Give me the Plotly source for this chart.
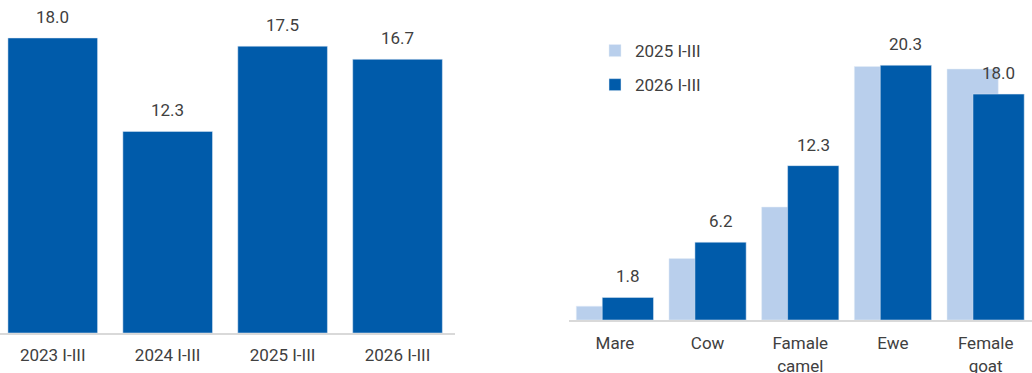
import plotly.graph_objects as go

# Left panel: totals by period
periods = ["2023 I-III", "2024 I-III", "2025 I-III", "2026 I-III"]
period_values = [18.0, 12.3, 17.5, 16.7]

# Right panel: by livestock type, two periods
animals = ["Mare", "Cow", "Famale<br>camel", "Ewe", "Female<br>goat"]
values_2025 = [1.1, 4.9, 9.0, 20.2, 20.0]
values_2026 = [1.8, 6.2, 12.3, 20.3, 18.0]
series_names = ["2025 I-III", "2026 I-III"]

DARK = "#005BAA"
LIGHT = "#B9CFEC"
TEXT = "#404040"
AXIS = "#D9D9D9"
FONT = "Roboto"
FS = 17

W, H = 1032, 373

fig = go.Figure()

# Left bars
fig.add_trace(go.Bar(
    x=periods, y=period_values, marker_color=DARK, width=0.78,
    xaxis="x", yaxis="y", showlegend=False, hoverinfo="skip",
))

# Right overlapping bars: light one shifted left, dark one shifted right
bw = 0.553
light_off = -0.417
dark_off = -0.137
fig.add_trace(go.Bar(
    x=animals, y=values_2025, name=series_names[0], marker_color=LIGHT,
    width=bw, offset=light_off, xaxis="x2", yaxis="y2",
    legendgroup="a", hoverinfo="skip",
))
fig.add_trace(go.Bar(
    x=animals, y=values_2026, name=series_names[1], marker_color=DARK,
    width=bw, offset=dark_off, xaxis="x2", yaxis="y2",
    legendgroup="b", hoverinfo="skip",
))

label_font = dict(family=FONT, size=FS, color=TEXT)
annotations = []
for i, v in enumerate(period_values):
    annotations.append(dict(
        x=i, y=v, xref="x", yref="y", text=f"{v:.1f}", showarrow=False,
        yanchor="bottom", yshift=9, font=label_font,
    ))
for i, v in enumerate(values_2026):
    annotations.append(dict(
        x=i + dark_off + bw / 2, y=v, xref="x2", yref="y2", text=f"{v:.1f}",
        showarrow=False, yanchor="bottom", yshift=9, font=label_font,
    ))

axis_common = dict(
    showgrid=False, zeroline=False, ticks="", showline=True,
    linecolor=AXIS, linewidth=2, fixedrange=True, automargin=False,
    tickfont=dict(family=FONT, size=FS, color=TEXT),
)
yaxis_common = dict(showgrid=False, zeroline=False, showticklabels=False,
                    showline=False, fixedrange=True, automargin=False)

fig.update_layout(
    width=W, height=H,
    margin=dict(l=0, r=0, t=0, b=0),
    paper_bgcolor="white", plot_bgcolor="white",
    barmode="overlay",
    font=dict(family=FONT, size=FS, color=TEXT),
    xaxis=dict(domain=[0, 455 / W], range=[-0.459, 3.5], anchor="y",
               ticklabelstandoff=6, **axis_common),
    yaxis=dict(domain=[(H - 333) / H, 1], range=[0, 333 / 16.39], anchor="x", **yaxis_common),
    xaxis2=dict(domain=[568.6 / W, 1], range=[-0.5, 4.5], anchor="y2",
                ticklabelstandoff=7, **axis_common),
    yaxis2=dict(domain=[(H - 320) / H, 1], range=[0, 320 / 12.55], anchor="x2", **yaxis_common),
    legend=dict(
        x=595 / W, y=1 - 33 / H, xanchor="left", yanchor="top",
        bgcolor="rgba(0,0,0,0)", font=dict(family=FONT, size=FS, color=TEXT),
        tracegroupgap=9, traceorder="grouped",
    ),
    annotations=annotations,
)

fig.write_html("out.html")
